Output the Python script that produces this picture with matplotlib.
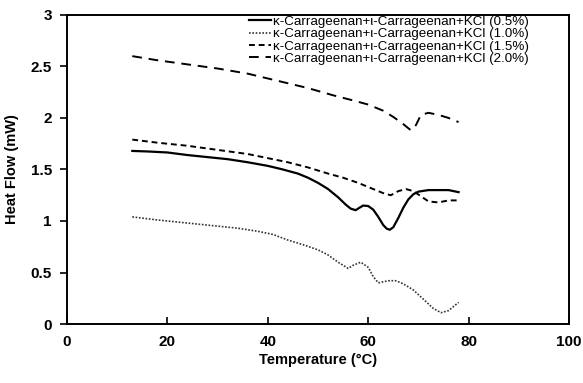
import matplotlib
matplotlib.use('Agg')
import matplotlib.pyplot as plt
from matplotlib.ticker import MultipleLocator, FormatStrFormatter

# 0.5 %
T1 = [13, 16, 20, 24, 28, 32, 36, 40, 43, 46, 48, 50, 52, 54, 55.5, 56.5, 57.5, 58.3, 59, 60, 61, 62, 63, 63.7, 64.3, 65, 66, 67, 68, 69, 70, 72, 74, 76, 78]
H1 = [1.68, 1.675, 1.665, 1.64, 1.62, 1.6, 1.57, 1.535, 1.50, 1.46, 1.42, 1.37, 1.31, 1.23, 1.16, 1.12, 1.105, 1.13, 1.15, 1.145, 1.11, 1.04, 0.96, 0.925, 0.915, 0.94, 1.03, 1.13, 1.21, 1.26, 1.285, 1.30, 1.30, 1.30, 1.28]
# 1.0 %
T2 = [13, 18, 24, 30, 34, 38, 41, 44, 47, 50, 52, 54, 56, 57, 58.5, 60, 61, 62, 63, 64, 65.5, 67, 69, 71, 73, 74.5, 76, 77, 78]
H2 = [1.04, 1.01, 0.98, 0.95, 0.93, 0.90, 0.87, 0.815, 0.77, 0.72, 0.67, 0.60, 0.54, 0.57, 0.60, 0.55, 0.46, 0.40, 0.41, 0.42, 0.42, 0.39, 0.33, 0.24, 0.15, 0.11, 0.13, 0.17, 0.21]
# 1.5 %
T3 = [13, 18, 24, 30, 36, 40, 44, 48, 52, 55, 58, 61, 63, 64.5, 66, 67.5, 69, 70.5, 72, 74, 76, 78]
H3 = [1.79, 1.76, 1.73, 1.69, 1.65, 1.61, 1.57, 1.52, 1.46, 1.42, 1.37, 1.31, 1.27, 1.25, 1.29, 1.31, 1.29, 1.24, 1.19, 1.18, 1.20, 1.20]
# 2.0 %
T4 = [13, 18, 24, 30, 36, 42, 48, 53, 57, 60, 63, 65, 67, 68.5, 69.5, 70.5, 72, 74, 76, 78]
H4 = [2.60, 2.56, 2.52, 2.48, 2.43, 2.36, 2.29, 2.22, 2.17, 2.13, 2.07, 2.01, 1.94, 1.88, 1.93, 2.03, 2.05, 2.03, 2.00, 1.96]

labels = ['κ-Carrageenan+ι-Carrageenan+KCl (0.5%)',
          'κ-Carrageenan+ι-Carrageenan+KCl (1.0%)',
          'κ-Carrageenan+ι-Carrageenan+KCl (1.5%)',
          'κ-Carrageenan+ι-Carrageenan+KCl (2.0%)']

plt.rcParams['font.family'] = ['Liberation Sans', 'DejaVu Sans']

fig = plt.figure(figsize=(5.83, 3.83), dpi=100)
ax = fig.add_axes([0.115, 0.154, 0.861, 0.807])

ax.plot(T1, H1, color='black', linewidth=1.6, label=labels[0])
ax.plot(T2, H2, color='#333333', linewidth=1.2, linestyle=(0, (1, 1)), label=labels[1])
ax.plot(T3, H3, color='black', linewidth=1.4, linestyle=(0, (3, 2)), label=labels[2])
ax.plot(T4, H4, color='black', linewidth=1.4, linestyle=(0, (5, 3.5)), label=labels[3])

ax.set_xlim(0, 100)
ax.set_ylim(0, 3)
ax.xaxis.set_major_locator(MultipleLocator(20))
ax.yaxis.set_major_locator(MultipleLocator(0.5))
ax.yaxis.set_major_formatter(FormatStrFormatter('%g'))
ax.tick_params(axis='x', direction='in', length=5, width=1.2, pad=8)
ax.tick_params(axis='y', direction='out', length=5, width=1.2, pad=6)
for lab in ax.get_xticklabels() + ax.get_yticklabels():
    lab.set_fontweight('bold')
    lab.set_fontsize(11)
for sp in ax.spines.values():
    sp.set_linewidth(1.4)

ax.set_xlabel('Temperature (°C)', fontsize=10.5, fontweight='bold', labelpad=3)
ax.set_ylabel('Heat Flow (mW)', fontsize=10.5, fontweight='bold', labelpad=8)

ax.legend(loc='upper right', bbox_to_anchor=(0.93, 1.015), frameon=False,
          fontsize=9.6, handlelength=1.7, handletextpad=0.1, labelspacing=0.0,
          borderaxespad=0)

fig.savefig('out.png', dpi=100)
